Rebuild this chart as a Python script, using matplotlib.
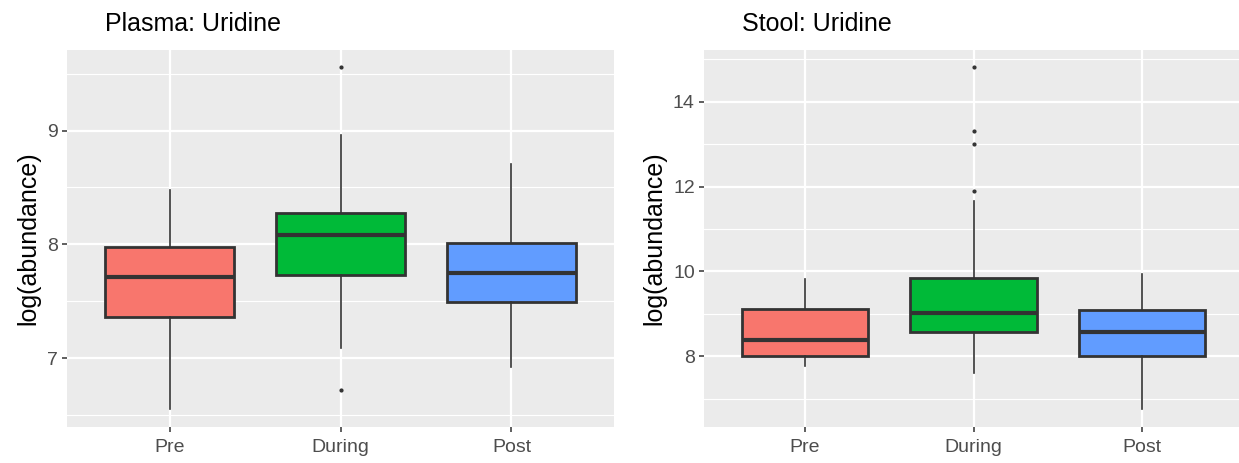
import matplotlib
matplotlib.use("Agg")
import matplotlib.pyplot as plt

plt.rcParams['font.family'] = ['Liberation Sans', 'DejaVu Sans']

categories = ["Pre", "During", "Post"]
colors = ["#F8766D", "#00BA38", "#619CFF"]

# Plasma: [whislo, q1, med, q3, whishi]
plasma_stats = [
    [6.55, 7.36, 7.71, 7.98, 8.48],
    [7.09, 7.73, 8.08, 8.28, 8.96],
    [6.92, 7.49, 7.75, 8.01, 8.71],
]
plasma_fliers = [[], [9.56, 6.72], []]

stool_stats = [
    [7.76, 8.00, 8.37, 9.11, 9.82],
    [7.60, 8.57, 9.01, 9.84, 11.66],
    [6.75, 8.00, 8.57, 9.09, 9.94],
]
stool_fliers = [[], [14.83, 13.31, 13.00, 11.89], []]

plasma_major = [7, 8, 9]
plasma_minor = [6.5, 7.5, 8.5, 9.5]
stool_major = [8, 10, 12, 14]
stool_minor = [7, 9, 11, 13, 15]

fig = plt.figure(figsize=(12.39, 4.63), dpi=100)
W, H = 1239, 463

def make_panel(rect, stats, fliers, major, minor, ylim, title, title_x):
    ax = fig.add_axes(rect)
    ax.set_facecolor("#EBEBEB")
    for s in ax.spines.values():
        s.set_visible(False)
    ax.set_axisbelow(True)
    bxp_stats = []
    for lab, st, fl in zip(categories, stats, fliers):
        bxp_stats.append(dict(label=lab, whislo=st[0], q1=st[1], med=st[2],
                              q3=st[3], whishi=st[4], fliers=fl))
    bp = ax.bxp(bxp_stats, positions=[1, 2, 3], widths=0.75, patch_artist=True,
                showcaps=False,
                boxprops=dict(edgecolor="#333333", linewidth=2.0),
                medianprops=dict(color="#333333", linewidth=3.0, solid_capstyle="butt"),
                whiskerprops=dict(color="#333333", linewidth=1.2),
                flierprops=dict(marker="o", markersize=2.0, markerfacecolor="#333333",
                                markeredgecolor="#333333"))
    for patch, c in zip(bp["boxes"], colors):
        patch.set_facecolor(c)
    ax.set_xlim(0.4, 3.6)
    ax.set_ylim(*ylim)
    ax.set_yticks(major)
    ax.set_yticks(minor, minor=True)
    ax.set_xticks([1, 2, 3])
    ax.set_xticklabels(categories)
    ax.grid(which="major", color="white", linewidth=1.6)
    ax.grid(which="minor", axis="y", color="white", linewidth=0.8)
    ax.tick_params(axis="both", which="major", color="#333333", length=3.6, width=1.1,
                   labelcolor="#4D4D4D", labelsize=14, pad=3)
    ax.tick_params(axis="x", which="major", pad=5)
    ax.tick_params(axis="y", which="minor", length=0)
    ax.set_ylabel("log(abundance)", fontsize=18, color="black", labelpad=5)
    t = ax.set_title(title, fontsize=18, loc="left", color="black", pad=14)
    t.set_x(title_x)
    return ax

ax1 = make_panel([67/W, 1-427/H, (614-67)/W, (427-50)/H],
                 plasma_stats, plasma_fliers, plasma_major, plasma_minor,
                 (6.394, 9.709), "Plasma: Uridine", (105-67)/(614-67))
ax2 = make_panel([704/W, 1-427/H, (1243-704)/W, (427-50)/H],
                 stool_stats, stool_fliers, stool_major, stool_minor,
                 (6.33, 15.22), "Stool: Uridine", (742-704)/(1243-704))

fig.savefig("out.png", dpi=100)
